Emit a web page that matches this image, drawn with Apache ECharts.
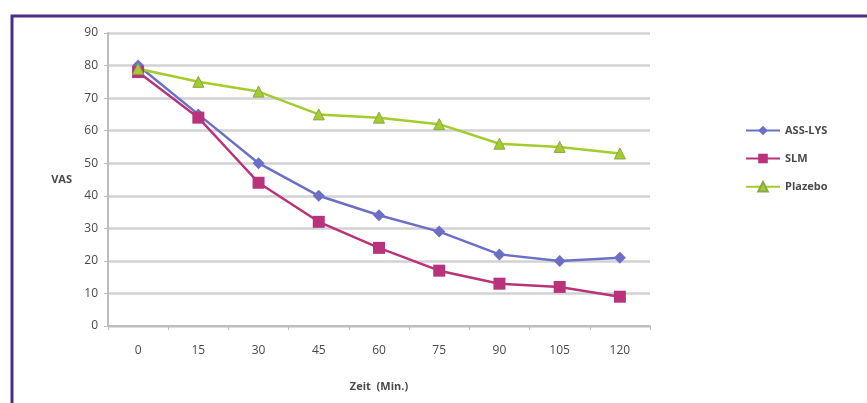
<!DOCTYPE html>
<html><head><meta charset="utf-8">
<script src="https://cdn.jsdelivr.net/npm/echarts@6/dist/echarts.min.js"></script>
<style>html,body{margin:0;padding:0;background:#fff}#c{width:867px;height:403px}</style>
</head><body><div id="c"></div>
<script>
const categories = ['0','15','30','45','60','75','90','105','120'];
const assLys = [80, 65, 50, 40, 34, 29, 22, 20, 21];
const slm = [78, 64, 44, 32, 24, 17, 13, 12, 9];
const plazebo = [79, 75, 72, 65, 64, 62, 56, 55, 53];
const seriesNames = ['ASS-LYS', 'SLM', 'Plazebo'];

const txt = '#4a4a4a';
const font = 'Open Sans';
const chart = echarts.init(document.getElementById('c'));
chart.setOption({
  backgroundColor: '#fff',
  animation: false,
  graphic: [{
    type: 'rect', shape: {x: 12, y: 16, width: 900, height: 420},
    style: {fill: 'none', stroke: '#4b2c86', lineWidth: 3}, z: -1
  }],
  grid: {left: 108, right: 217, top: 33, bottom: 77},
  legend: {
    orient: 'vertical', left: 740, top: 120, itemGap: 17,
    itemWidth: 34, itemHeight: 12,
    textStyle: {color: txt, fontSize: 11, fontFamily: font, fontWeight: 'bold'},
    data: seriesNames
  },
  xAxis: {
    type: 'category', data: categories, boundaryGap: true,
    name: 'Zeit  (Min.)', nameLocation: 'middle', nameGap: 55,
    nameTextStyle: {color: txt, fontSize: 11, fontFamily: font, fontWeight: 'bold'},
    axisLine: {lineStyle: {color: '#bdbdbd', width: 2}},
    axisTick: {show: true, length: 4, lineStyle: {color: '#bdbdbd'}},
    axisLabel: {color: txt, fontSize: 12, fontFamily: font, margin: 19}
  },
  yAxis: {
    type: 'value', min: 0, max: 90, interval: 10,
    name: 'VAS', nameLocation: 'middle', nameRotate: 0, nameGap: 36,
    nameTextStyle: {color: txt, fontSize: 11, fontFamily: font, fontWeight: 'bold'},
    axisLine: {show: true, lineStyle: {color: '#bdbdbd', width: 2}},
    axisTick: {show: true, length: 4, lineStyle: {color: '#bdbdbd'}},
    axisLabel: {color: txt, fontSize: 12, fontFamily: font, margin: 10},
    splitLine: {lineStyle: {color: '#d2d2d2', width: 2.5}}
  },
  series: [
    {name: seriesNames[0], type: 'line', data: assLys, symbol: 'diamond', symbolSize: 12,
     lineStyle: {color: '#6b70c6', width: 2.5}, itemStyle: {color: '#6b70c6'}},
    {name: seriesNames[1], type: 'line', data: slm, symbol: 'rect', symbolSize: 12,
     lineStyle: {color: '#b8337c', width: 2.5}, itemStyle: {color: '#b8337c'}},
    {name: seriesNames[2], type: 'line', data: plazebo, symbol: 'triangle', symbolSize: 11,
     lineStyle: {color: '#a3cc2c', width: 2.5}, itemStyle: {color: '#a3cc2c', borderColor: '#8aa84a', borderWidth: 1}}
  ]
});
</script></body></html>
